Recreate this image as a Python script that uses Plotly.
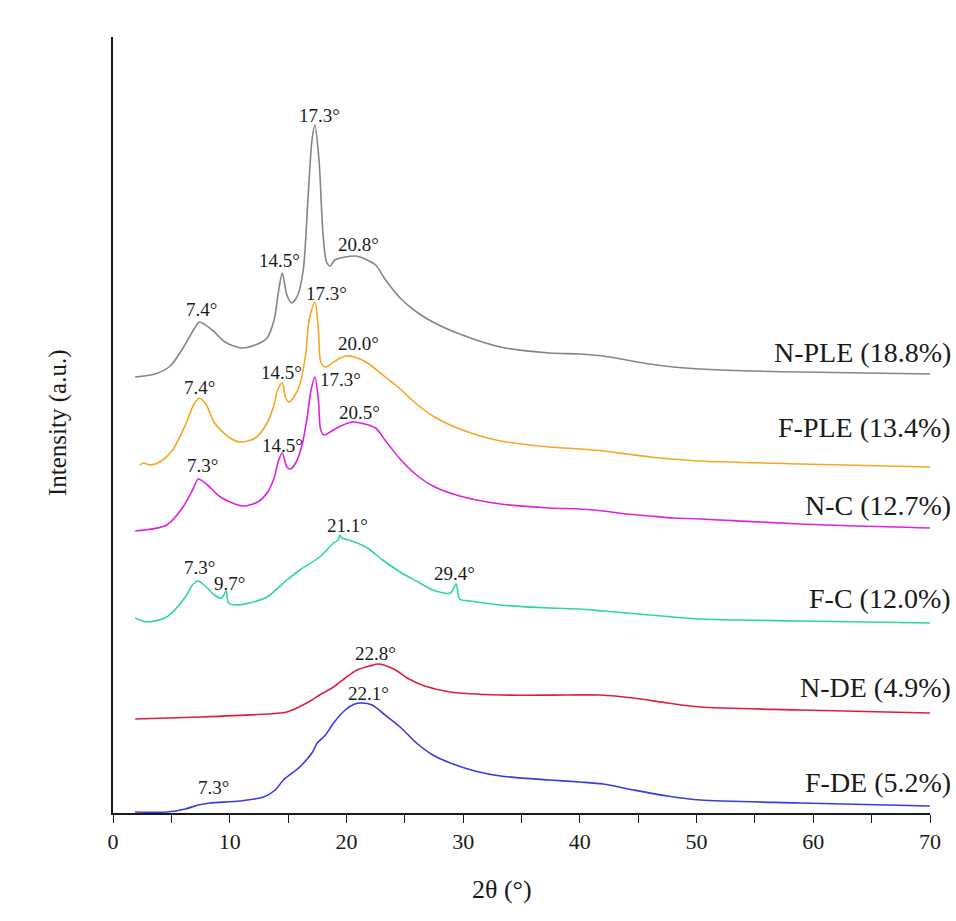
import plotly.graph_objects as go

# XRD patterns (2θ in degrees, intensity in arbitrary units, vertically stacked)
theta_npl = [1.9, 3.6, 4.9, 6.0, 7.0, 7.4, 8.5, 9.6, 11.0, 12.4, 13.2, 13.8, 14.2, 14.5, 14.9, 15.3, 15.8,
             16.3, 16.7, 17.05, 17.3, 17.65, 18.0, 18.3, 18.6, 19.0, 19.9, 20.8, 21.6, 22.5, 23.3, 24.6,
             25.9, 27.4, 29.7, 33.2, 37.4, 40.0, 42.0, 44.0, 46.0, 48.0, 50.3, 54.6, 58.9, 70.0]
int_npl = [436, 439, 447, 465, 485, 491, 483, 471, 465, 469, 475, 493, 523, 540, 518, 510, 517,
           543, 613, 673, 688, 653, 578, 551, 547, 553, 556, 557, 554, 548, 534, 515,
           502, 491, 479, 466, 460, 459, 457, 453, 449, 446, 444, 442, 441, 439]

theta_fpl = [2.3, 2.6, 3.2, 4.0, 5.1, 6.2, 6.9, 7.4, 8.0, 8.7, 9.9, 10.9, 12.2, 13.2, 13.8, 14.1, 14.5,
             14.8, 15.1, 15.6, 16.0, 16.5, 16.8, 17.3, 17.6, 17.8, 18.2, 18.9, 19.5, 20.0, 20.7, 21.8,
             22.9, 24.6, 25.9, 27.4, 29.7, 33.2, 37.4, 40.0, 42.0, 44.0, 46.0, 48.0, 50.3, 58.9, 70.0]
int_fpl = [348, 350, 348, 351, 363, 388, 408, 415, 408, 390, 376, 371, 375, 390, 408, 423, 430,
           415, 411, 418, 428, 458, 493, 511, 483, 451, 446, 451, 455, 457, 456, 450,
           440, 424, 410, 397, 384, 372, 366, 364, 362, 359, 356, 354, 352, 349, 346]

theta_nc = [1.9, 4.6, 6.0, 6.9, 7.3, 8.1, 9.2, 11.1, 12.4, 13.2, 13.8, 14.2, 14.5, 14.9, 15.2, 15.7,
            16.2, 16.6, 16.97, 17.3, 17.6, 17.8, 18.1, 18.6, 19.5, 20.5, 21.2, 22.5, 23.3, 24.6, 25.9,
            27.4, 29.7, 33.2, 37.4, 40.0, 42.0, 44.0, 46.0, 48.0, 50.3, 58.9, 70.0]
int_nc = [282, 288, 306, 325, 334, 328, 316, 307, 311, 320, 335, 353, 360, 346, 344, 351,
          368, 393, 423, 436, 413, 383, 378, 381, 387, 391, 390, 385, 373, 354, 339,
          327, 317, 309, 305, 304, 302, 299, 297, 295, 294, 289, 285]

theta_fc = [1.9, 2.9, 4.6, 6.2, 6.8, 7.3, 7.9, 8.7, 9.3, 9.7, 9.9, 10.6, 11.7, 13.2, 14.9, 16.0, 17.7,
            18.9, 19.3, 19.45, 19.6, 19.9, 20.7, 21.8, 23.1, 24.6, 26.3, 27.4, 28.9, 29.4, 29.7, 30.6,
            33.2, 37.4, 40.0, 42.0, 44.0, 46.0, 48.0, 50.3, 58.9, 70.0]
int_fc = [195, 191, 196, 216, 228, 232, 227, 218, 215, 222, 210, 208, 210, 216, 233, 243, 256,
          270, 273, 278, 275, 274, 271, 265, 253, 241, 230, 223, 220, 229, 214, 212,
          208, 205, 204, 202, 200, 198, 196, 194, 192, 190]

theta_nde = [1.9, 7.5, 13.2, 14.9, 16.6, 17.7, 18.9, 19.9, 20.9, 22.0, 22.8, 24.2, 25.2, 26.7, 28.9,
             33.2, 38.9, 41.7, 44.6, 47.5, 50.3, 58.9, 70.0]
int_nde = [94, 96, 99, 101, 110, 118, 126, 135, 143, 147, 149, 143, 135, 127, 121,
           118, 118, 118, 115, 110, 106, 103, 100]

theta_fde = [1.9, 4.6, 6.2, 7.3, 8.3, 10.9, 12.9, 13.9, 14.6, 16.0, 17.1, 17.5, 18.2, 18.9, 19.9, 20.7,
             21.3, 22.2, 23.1, 24.6, 26.0, 27.4, 28.9, 31.0, 33.2, 37.4, 40.0, 42.0, 44.6, 47.5, 50.3, 58.9, 70.0]
int_fde = [1, 1, 4, 8, 10, 12, 16, 23, 33, 46, 61, 70, 78, 90, 103, 109,
           110, 108, 100, 86, 70, 58, 50, 42, 37, 33, 31, 29, 23, 17, 13, 10, 7]

series_names = ["N-PLE (18.8%)", "F-PLE (13.4%)", "N-C (12.7%)", "F-C (12.0%)", "N-DE (4.9%)", "F-DE (5.2%)"]
series_theta = [theta_npl, theta_fpl, theta_nc, theta_fc, theta_nde, theta_fde]
series_int = [int_npl, int_fpl, int_nc, int_fc, int_nde, int_fde]
series_colors = ["#858585", "#f5a623", "#dd22dd", "#2fd6a0", "#dc1e46", "#3a3ae0"]
name_label_y = [461, 386, 308, 215, 126, 31]

# Peak annotations: (2θ position of text, intensity position of text, text)
peak_x = [17.65, 14.3, 21.0, 7.54, 7.37, 14.4, 18.25, 21.0, 7.71, 14.5, 19.45, 21.1,
          20.1, 7.37, 10.0, 29.3, 22.45, 21.85, 8.57]
peak_y = [698, 553, 569, 504, 426, 441, 520, 470, 348, 368, 434, 401,
          288, 246, 230, 240, 160, 120, 26]
peak_text = ["17.3°", "14.5°", "20.8°", "7.4°", "7.4°", "14.5°", "17.3°", "20.0°", "7.3°", "14.5°", "17.3°", "20.5°",
             "21.1°", "7.3°", "9.7°", "29.4°", "22.8°", "22.1°", "7.3°"]

FONT = "Liberation Serif, Times New Roman, serif"

fig = go.Figure()
for name, tx, iy, col in zip(series_names, series_theta, series_int, series_colors):
    fig.add_trace(go.Scatter(x=tx, y=iy, mode="lines", name=name,
                             line=dict(color=col, width=1.6, shape="spline", smoothing=0.8),
                             showlegend=False, hoverinfo="skip"))

annotations = []
for px_, py_, t in zip(peak_x, peak_y, peak_text):
    annotations.append(dict(x=px_, y=py_, xref="x", yref="y", text=t, showarrow=False,
                            font=dict(family=FONT, size=19, color="#1a1a1a"),
                            xanchor="center", yanchor="middle"))
for name, ly in zip(series_names, name_label_y):
    annotations.append(dict(x=1.0285, y=ly, xref="paper", yref="y", text=name, showarrow=False,
                            font=dict(family=FONT, size=28, color="#1a1a1a"),
                            xanchor="right", yanchor="middle"))
annotations.append(dict(x=0.476, y=-0.0992, xref="paper", yref="paper", text="2θ (°)", showarrow=False,
                        font=dict(family=FONT, size=26, color="#1a1a1a"), xanchor="center", yanchor="middle"))
annotations.append(dict(x=-0.0673, y=0.5026, xref="paper", yref="paper", text="Intensity (a.u.)",
                        showarrow=False, textangle=-90,
                        font=dict(family=FONT, size=25, color="#1a1a1a"), xanchor="center", yanchor="middle"))

fig.update_layout(
    width=956, height=921,
    margin=dict(l=113, r=26, t=37, b=108),
    paper_bgcolor="white", plot_bgcolor="white",
    annotations=annotations,
    xaxis=dict(range=[0, 70], dtick=10, tick0=0, showgrid=False, zeroline=False,
               showline=True, linecolor="#1a1a1a", linewidth=1.5,
               ticks="outside", ticklen=8, tickwidth=1.3, tickcolor="#1a1a1a",
               minor=dict(dtick=5, ticks="outside", ticklen=8, tickwidth=1.3, tickcolor="#1a1a1a"),
               tickfont=dict(family=FONT, size=22, color="#1a1a1a")),
    yaxis=dict(range=[0, 776], showgrid=False, zeroline=False, showticklabels=False,
               showline=True, linecolor="#1a1a1a", linewidth=1.5, ticks=""),
)

fig.write_html("out.html")
